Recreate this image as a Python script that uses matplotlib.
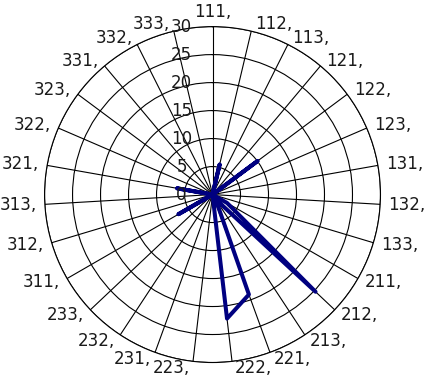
import matplotlib
matplotlib.use("Agg")
import matplotlib.pyplot as plt
import numpy as np
from matplotlib.transforms import offset_copy

# Categories, clockwise from the top
categories = ['111,', '112,', '113,', '121,', '122,', '123,', '131,', '132,', '133,',
              '211,', '212,', '213,', '221,', '222,', '223,', '231,', '232,', '233,',
              '311,', '312,', '313,', '321,', '322,', '323,', '331,', '332,', '333,']
# Series values
values = [0, 5.5, 0, 0, 10, 0, 0, 0, 0,
          3, 25.3, 1, 19, 22.3, 0, 0, 0, 0,
          7, 0, 0, 6.4, 0, 0, 0, 0, 0]
r_ticks = [0, 5, 10, 15, 20, 25, 30]

fs = 12
fig = plt.figure(figsize=(4.27, 3.80), dpi=100)
ax = fig.add_axes([0.1042, 0.046, 0.787, 0.884], projection='polar')
ax.set_theta_zero_location('N')
ax.set_theta_direction(-1)

theta = np.arange(len(categories)) * 2 * np.pi / len(categories)
ax.set_ylim(0, 30)
ax.set_yticks(r_ticks)
ax.set_yticklabels([])
ax.set_xticks(theta)
ax.set_xticklabels([])
ax.tick_params(length=0)
ax.grid(True, color='black', linewidth=0.8)
ax.spines['polar'].set_color('black')
ax.spines['polar'].set_linewidth(0.8)

# data line, closed like a radar chart
t_closed = np.append(theta, theta[0])
v_closed = np.append(values, values[0])
ax.plot(t_closed, v_closed, color='#000080', linewidth=2.9, zorder=3)

# category labels outside the circle
for t, lab in zip(theta, categories):
    s, c = np.sin(t), np.cos(t)
    if abs(s) < 0.05:
        ha = 'center'
        dx = 0
        dy = 7 * c + 8 * np.sign(c)
    else:
        ha = 'left' if s > 0 else 'right'
        dx = np.sign(s) * (2 + 6 * abs(s))
        dy = 7 * c
    tr = offset_copy(ax.transData, fig=fig, x=dx, y=dy, units='dots')
    ax.text(t, 30, lab, transform=tr, ha=ha, va='center', fontsize=fs,
            color='#1a1a1a', clip_on=False)

# radial axis labels along the top spoke
for r in r_ticks:
    tr = offset_copy(ax.transData, fig=fig, x=-31, y=0, units='dots')
    ax.text(0, r, str(r), transform=tr, ha='center', va='center', fontsize=fs,
            color='#1a1a1a', zorder=4)

fig.savefig('out.png', dpi=100)
